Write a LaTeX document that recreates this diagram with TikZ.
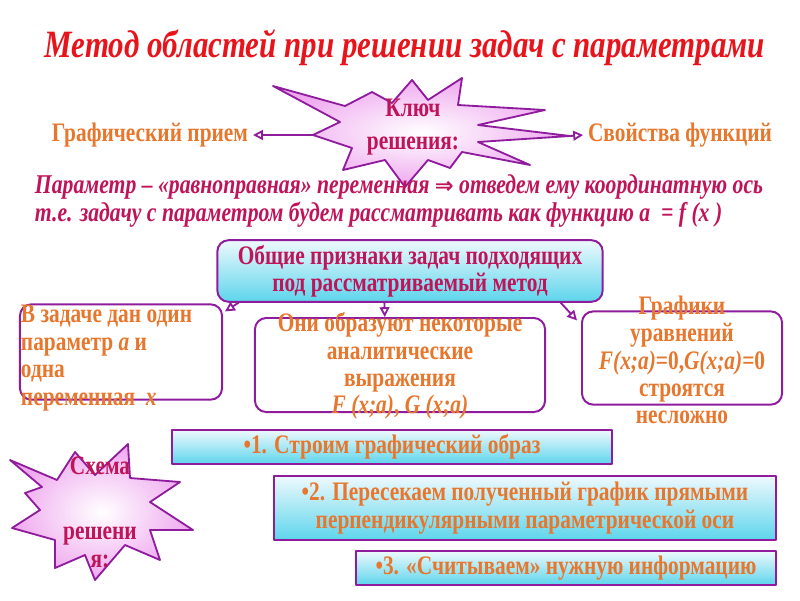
\documentclass[tikz,border=0pt]{standalone}
\usepackage{fontspec}
\setmainfont{Liberation Serif}[FakeStretch=0.8]
\newfontfamily\symfont{DejaVu Sans}
\usetikzlibrary{arrows.meta,calc,positioning}
\definecolor{titlered}{HTML}{E8141C}
\definecolor{crimson}{HTML}{C0145A}
\definecolor{orangetext}{HTML}{E8772E}
\definecolor{boxpurple}{HTML}{8E1C9C}
\definecolor{cyantop}{HTML}{EEF9FD}
\definecolor{cyanbot}{HTML}{5DD5EC}
\definecolor{starpink}{HTML}{EFA8EF}
\tikzset{
every picture/.style={line cap=round,line join=round},
big font/.style={font=\fontsize{19}{19.5}\selectfont\bfseries},
star shape/.style={
  draw=boxpurple,
  line width=1.3pt,
  inner color=white,
  outer color=starpink
},
cyan box/.style={
  draw=boxpurple,
  line width=1.4pt,
  top color=cyantop,
  bottom color=cyanbot
},
white box/.style={
  draw=boxpurple,
  line width=1.4pt,
  rounded corners=8pt,
  fill=white
},
box text/.style={big font, text=orangetext, align=center},
tip line/.style={
  draw=boxpurple,
  line width=1.3pt,
  -{Triangle[open,length=7pt,width=7pt]}
}
}
\begin{document}
\begin{tikzpicture}[x=0.025cm,y=-0.025cm]
\useasboundingbox (0,0) rectangle (800,600);
% title
\node[font=\fontsize{27.5}{32}\selectfont\bfseries\itshape, text=titlered] (title) at (405,48)
  {Метод областей при решении задач с параметрами};
% key of the solution
\node[big font, text=orangetext] (graph) at (150,135) {Графический прием};
\node[big font, text=orangetext] (props) at (680,135) {Свойства функций};
\coordinate (keyL) at (313,135);
\coordinate (keyR) at (570,136);
\draw[tip line] (keyL) -- (graph.east);
\draw[tip line] (keyR) -- (props.west);
\path[star shape] (313,135) -- (340,122) -- (273,86) -- (345,106) -- (372,92) -- (392,103)
  -- (412,80) -- (428,100) -- (462,78) -- (458,105) -- (545,110) -- (478,125) -- (570,136)
  -- (478,142) -- (530,165) -- (462,152) -- (450,168) -- (428,160) -- (405,187) -- (385,160)
  -- (343,170) -- (352,148) -- cycle;
\node[big font, text=crimson, align=center] (keytext) at (413,127) {Ключ\\[4pt]решения:};
% parameter remark
\node[font=\fontsize{19.3}{20}\selectfont\bfseries\itshape, text=crimson, align=left, anchor=west]
  (remark) at (30,201)
  {Параметр – «равноправная» переменная {\symfont\fontsize{16}{16}\selectfont\bfseries ⇒} отведем ему координатную ось\\
   т.е. задачу с параметром будем рассматривать как функцию а \ = f (x )};
% common features
\node[cyan box, rounded corners=8pt, minimum width=9.63cm, minimum height=1.43cm,
  big font, text=crimson, align=center] (main) at (410,271)
  {Общие признаки задач подходящих\\под рассматриваемый метод};
\node[white box, minimum width=5.05cm, minimum height=2.38cm] (leftb) at (121,352) {};
\node[box text, align=left, anchor=west] (lefttext) at (16,358)
  {В задаче дан один\\параметр \textit{a} и\\одна\\ переменная \ \textit{x}};
\node[white box, minimum width=7.25cm, minimum height=2.35cm] (midb) at (400,365) {};
\node[box text] (midtext) at (400,366)
  {Они образуют некоторые\\аналитические\\выражения\\\textit{F (x;a)}, \textit{G (x;a)}};
\node[white box, minimum width=5cm, minimum height=2.33cm] (rightb) at (682,358) {};
\node[box text] (righttext) at (682,360)
  {Графики\\уравнений\\\textit{F(x;a)}=0,\textit{G(x;a)}=0\\строятся\\несложно};
\draw[tip line] ([xshift=0.55cm]main.south west) -- ([xshift=0.05cm,yshift=-0.2cm]leftb.north east);
\draw[tip line] ([xshift=-0.64cm]main.south) -- ([xshift=-0.38cm]midb.north);
\draw[tip line] ([xshift=-1.07cm]main.south east) -- ([xshift=-0.1cm,yshift=-0.25cm]rightb.north west);
% scheme of the solution
\path[star shape] (10,460) -- (57,480) -- (75,452) -- (95,475) -- (128,444) -- (130,478)
  -- (180,482) -- (150,502) -- (193,530) -- (150,530) -- (160,560) -- (125,545) -- (95,580)
  -- (85,555) -- (55,568) -- (55,540) -- (12,528) -- (40,510) -- (25,493) -- (42,487) -- cycle;
\node[big font, text=crimson, align=center] (schemetext) at (100,512)
  {Схема\\[27pt]решени\\я:};
\node[cyan box, minimum width=10.98cm, minimum height=0.75cm, box text] (step1) at (392,447)
  {•1. Строим графический образ};
\node[cyan box, minimum width=12.53cm, minimum height=1.6cm, box text] (step2) at (525,508)
  {•2. Пересекаем полученный график прямыми\\перпендикулярными параметрической оси};
\node[cyan box, minimum width=10.5cm, minimum height=0.85cm, box text] (step3) at (566,568)
  {•3. «Считываем» нужную информацию};
\end{tikzpicture}
\end{document}
